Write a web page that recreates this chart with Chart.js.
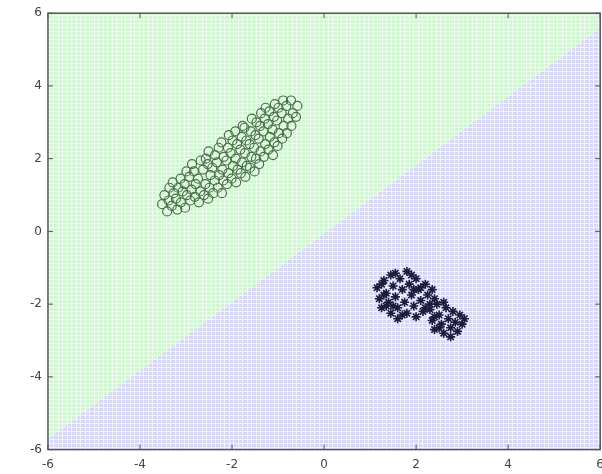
<!DOCTYPE html>
<html>
<head>
<meta charset="utf-8">
<script src="https://cdn.jsdelivr.net/npm/chart.js@4.4.0/dist/chart.umd.min.js"></script>
<style>
html,body{margin:0;padding:0;background:#fff;overflow:hidden;}
canvas{display:block;}
</style>
</head>
<body>
<canvas id="chart" width="612" height="480"></canvas>
<script>
// DATA
const tickValues = [-6, -4, -2, 0, 2, 4, 6];

// decision boundary (green region above, blue region below)
const boundaryX = [-6, 6];
const boundaryY = [-5.7, 5.6];

// class 1 - open circles
const circleX = [
  -3.52,-3.47, -3.41,-3.38,-3.36, -3.31,-3.27,-3.29, -3.19,-3.22,-3.17,
  -3.11,-3.07,-3.12, -3.02,-2.98,-3.03,-2.99, -2.91,-2.88,-2.93,-2.87,
  -2.81,-2.79,-2.83, -2.72,-2.69,-2.74,-2.68, -2.61,-2.58,-2.63,-2.57,
  -2.52,-2.49,-2.47,-2.53,-2.51, -2.41,-2.38,-2.43,-2.37, -2.31,-2.28,-2.33,-2.29,
  -2.22,-2.19,-2.21,-2.18,-2.23, -2.11,-2.08,-2.12,-2.09,-2.07, -2.01,-1.98,-2.03,-1.99,
  -1.91,-1.88,-1.92,-1.89,-1.93, -1.81,-1.78,-1.82,-1.79,-1.77, -1.71,-1.68,-1.72,-1.69,-1.73,
  -1.61,-1.58,-1.62,-1.59,-1.57, -1.51,-1.48,-1.52,-1.49,-1.47, -1.41,-1.38,-1.42,-1.39,-1.37,
  -1.31,-1.28,-1.32,-1.29,-1.27, -1.21,-1.18,-1.22,-1.19, -1.11,-1.08,-1.12,-1.09,-1.07,
  -1.01,-0.98,-1.02,-0.99, -0.91,-0.88,-0.92,-0.89, -0.81,-0.78,-0.82, -0.71,-0.68,-0.72, -0.61,-0.58
];
const circleY = [
  0.75,1.0, 0.55,0.85,1.2, 0.7,1.05,1.35, 0.6,0.9,1.2,
  0.8,1.1,1.45, 0.65,1.0,1.3,1.65, 0.85,1.15,1.5,1.85,
  0.95,1.3,1.65, 0.8,1.1,1.45,1.95, 1.0,1.3,1.7,2.0,
  0.9,1.2,1.55,1.85,2.2, 1.05,1.4,1.75,2.1, 1.2,1.55,1.9,2.3,
  1.05,1.4,1.7,2.05,2.45, 1.3,1.6,1.95,2.3,2.65, 1.45,1.8,2.15,2.5,
  1.35,1.7,2.0,2.4,2.75, 1.6,1.9,2.25,2.6,2.9, 1.5,1.8,2.15,2.5,2.85,
  1.75,2.05,2.4,2.75,3.1, 1.65,2.0,2.3,2.65,3.0, 1.85,2.2,2.55,2.9,3.25,
  2.05,2.4,2.75,3.1,3.4, 2.25,2.6,2.95,3.3, 2.1,2.45,2.8,3.15,3.5,
  2.35,2.7,3.05,3.4, 2.55,2.9,3.25,3.6, 2.7,3.1,3.45, 2.9,3.25,3.6, 3.15,3.45
];

// class 2 - stars
const starX = [
  1.15,1.2,1.25,1.3,1.35,1.4,1.45,1.45,1.5,1.55,1.6,1.6,1.65,1.7,1.75,1.8,1.8,1.85,1.9,1.95,
  2.0,2.0,2.05,2.1,2.15,2.2,2.25,2.3,2.35,2.4,1.25,1.35,1.55,1.7,1.9,2.1,1.3,1.5,1.95,2.2,
  2.3,2.35,2.4,2.45,2.5,2.55,2.6,2.65,2.7,2.75,2.8,2.85,2.9,2.95,3.0,2.6,2.4,2.75,3.05,2.5
];
const starY = [
  -1.55,-1.85,-2.1,-1.35,-1.7,-1.95,-2.25,-1.2,-1.5,-1.8,-2.1,-2.4,-1.3,-1.6,-1.95,-2.25,-1.1,-1.45,-1.75,-2.05,
  -2.35,-1.3,-1.6,-1.9,-2.2,-1.45,-1.75,-2.0,-1.6,-1.85,-1.45,-2.05,-1.15,-2.3,-1.2,-1.55,-1.75,-2.05,-1.6,-2.1,
  -2.15,-2.45,-2.7,-2.0,-2.3,-2.55,-2.8,-2.1,-2.4,-2.65,-2.2,-2.5,-2.75,-2.3,-2.55,-1.95,-2.35,-2.9,-2.4,-2.65
];

// helpers
const toPoints = (xs, ys) => xs.map((x, i) => ({x: x, y: ys[i]}));

function meshPattern(base, line) {
  const c = document.createElement('canvas');
  c.width = 9; c.height = 8;
  const g = c.getContext('2d');
  g.fillStyle = base;
  g.fillRect(0, 0, 9, 8);
  g.fillStyle = line;
  g.fillRect(4, 0, 1, 8);
  g.fillRect(8, 0, 1, 8);
  g.fillRect(0, 3, 9, 1);
  g.fillRect(0, 7, 9, 1);
  return g.createPattern(c, 'repeat');
}

// FRAME + INWARD TICKS
const frame = {
  id: 'frame',
  afterDraw(chart) {
    const {ctx, chartArea: a, scales: {x, y}} = chart;
    ctx.save();
    ctx.strokeStyle = '#555';
    ctx.lineWidth = 1.5;
    ctx.strokeRect(a.left, a.top, a.right - a.left, a.bottom - a.top);
    ctx.lineWidth = 1;
    ctx.beginPath();
    tickValues.forEach(v => {
      const px = x.getPixelForValue(v);
      ctx.moveTo(px, a.bottom); ctx.lineTo(px, a.bottom - 5);
      ctx.moveTo(px, a.top); ctx.lineTo(px, a.top + 5);
      const py = y.getPixelForValue(v);
      ctx.moveTo(a.left, py); ctx.lineTo(a.left + 5, py);
      ctx.moveTo(a.right, py); ctx.lineTo(a.right - 5, py);
    });
    ctx.stroke();
    ctx.restore();
  }
};

new Chart(document.getElementById('chart'), {
  type: 'scatter',
  data: {
    datasets: [
      {
        type: 'line',
        data: toPoints(boundaryX, boundaryY),
        borderWidth: 0,
        pointRadius: 0,
        fill: 'end',
        backgroundColor: meshPattern('#d3f5d3', '#f0fbf0'),
        order: 3
      },
      {
        type: 'line',
        data: toPoints(boundaryX, boundaryY),
        borderWidth: 0,
        pointRadius: 0,
        fill: 'start',
        backgroundColor: meshPattern('#d7d7f7', '#f3f3fd'),
        order: 3
      },
      {
        data: toPoints(circleX, circleY),
        pointStyle: 'circle',
        pointRadius: 4.5,
        borderWidth: 1.2,
        borderColor: '#4b704b',
        backgroundColor: 'rgba(0,0,0,0)',
        order: 1
      },
      {
        data: toPoints(starX, starY),
        pointStyle: 'star',
        pointRadius: 4.5,
        borderWidth: 1.6,
        borderColor: '#1c1c3c',
        backgroundColor: '#1c1c3c',
        order: 0
      }
    ]
  },
  options: {
    responsive: false,
    animation: false,
    layout: {padding: {left: 24, top: 6, right: 0, bottom: 0}},
    plugins: {legend: {display: false}, tooltip: {enabled: false}},
    scales: {
      x: {
        type: 'linear',
        min: -6, max: 6,
        grid: {display: false, drawTicks: false},
        border: {display: false},
        afterBuildTicks: s => { s.ticks = tickValues.map(v => ({value: v})); },
        ticks: {color: '#444', padding: 8, maxRotation: 0, font: {family: 'DejaVu Sans', size: 12}}
      },
      y: {
        type: 'linear',
        min: -6, max: 6,
        grid: {display: false, drawTicks: false},
        border: {display: false},
        afterBuildTicks: s => { s.ticks = tickValues.map(v => ({value: v})); },
        ticks: {color: '#444', padding: 6, font: {family: 'DejaVu Sans', size: 12}}
      }
    }
  },
  plugins: [frame]
});
</script>
</body>
</html>
